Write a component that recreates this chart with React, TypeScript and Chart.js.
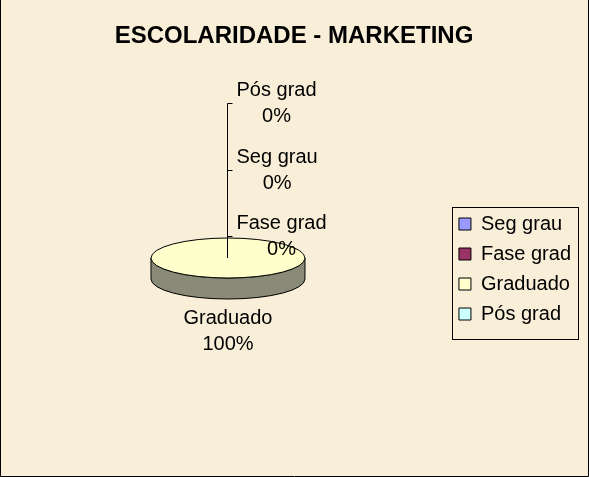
import React, { useEffect, useRef } from 'react';
import { Chart, registerables } from 'chart.js';

Chart.register(...registerables);

// ---- data ----
const chartTitle = 'ESCOLARIDADE - MARKETING';
const categories = ['Seg grau', 'Fase grad', 'Graduado', 'Pós grad'];
const shares = [0, 0, 100, 0];
const topColors = ['#9999FF', '#993366', '#FFFFCC', '#CCFFFF'];
const sideColors = ['#5F5F9E', '#5E1F3F', '#8A8A78', '#7E9E9E'];
// zero-value labels stacked from the pie upward
const zeroLabelOrder = ['Fase grad', 'Seg grau', 'Pós grad'];

const FONT = '"Liberation Sans", Arial, sans-serif';
const BG = '#F9EED8';
const TILT = 20 / 77;
const DEPTH = 21;
const STACK_STEP = 66.5;

function frontSegments(s: number, e: number) {
  const segs: [number, number][] = [];
  for (let k = -2; k <= 2; k++) {
    const a0 = Math.max(s, 2 * Math.PI * k);
    const a1 = Math.min(e, 2 * Math.PI * k + Math.PI);
    if (a1 > a0) segs.push([a0, a1]);
  }
  return segs;
}

const pie3d = {
  id: 'pie3d',
  beforeDraw(chart: any) {
    const ctx = chart.ctx;
    ctx.save();
    ctx.fillStyle = BG;
    ctx.fillRect(0, 0, chart.width, chart.height);
    ctx.restore();
  },
  beforeDatasetsDraw(chart: any) {
    const ctx = chart.ctx;
    const arcs = chart.getDatasetMeta(0).data;
    if (!arcs.length) return false;
    const { x, y, outerRadius: r } = arcs[0].getProps(['x', 'y', 'outerRadius'], true);
    const ry = r * TILT;
    ctx.save();
    ctx.lineWidth = 1;
    ctx.strokeStyle = '#000';
    // sides
    arcs.forEach((arc: any, i: number) => {
      const { startAngle, endAngle } = arc.getProps(['startAngle', 'endAngle'], true);
      if (endAngle - startAngle <= 0) return;
      frontSegments(startAngle, endAngle).forEach(([a0, a1]) => {
        ctx.beginPath();
        ctx.ellipse(x, y + DEPTH, r, ry, 0, a0, a1);
        ctx.ellipse(x, y, r, ry, 0, a1, a0, true);
        ctx.closePath();
        ctx.fillStyle = sideColors[i];
        ctx.fill();
        ctx.stroke();
      });
    });
    // top face drawn by the library's arc elements, flattened
    ctx.save();
    ctx.translate(x, y);
    ctx.scale(1, TILT);
    ctx.translate(-x, -y);
    arcs.forEach((arc: any) => arc.draw(ctx));
    ctx.restore();
    // outlines
    arcs.forEach((arc: any) => {
      const { startAngle, endAngle } = arc.getProps(['startAngle', 'endAngle'], true);
      const span = endAngle - startAngle;
      if (span <= 0) return;
      ctx.beginPath();
      if (span >= 2 * Math.PI - 1e-6) {
        ctx.ellipse(x, y, r, ry, 0, 0, 2 * Math.PI);
      } else {
        ctx.moveTo(x, y);
        ctx.ellipse(x, y, r, ry, 0, startAngle, endAngle);
        ctx.closePath();
      }
      ctx.stroke();
    });
    ctx.restore();
    return false;
  },
  afterDraw(chart: any) {
    const ctx = chart.ctx;
    const arcs = chart.getDatasetMeta(0).data;
    const values = chart.data.datasets[0].data as number[];
    const labels = chart.data.labels as string[];
    const total = values.reduce((a, b) => a + b, 0);
    const { x, y, outerRadius: r } = arcs[0].getProps(['x', 'y', 'outerRadius'], true);
    const ry = r * TILT;
    ctx.save();
    ctx.font = `20px ${FONT}`;
    ctx.fillStyle = '#000';
    ctx.strokeStyle = '#000';
    ctx.lineWidth = 1;
    ctx.textAlign = 'center';
    ctx.textBaseline = 'middle';
    let topTick: number | null = null;
    let lineX = 0;
    arcs.forEach((arc: any, i: number) => {
      const pct = Math.round((values[i] / total) * 100);
      const lines = [labels[i], pct + '%'];
      const w = Math.max(...lines.map((t) => ctx.measureText(t).width));
      const { startAngle, endAngle } = arc.getProps(['startAngle', 'endAngle'], true);
      if (values[i] === 0) {
        const level = zeroLabelOrder.indexOf(labels[i]);
        const ex = x + r * Math.cos(startAngle);
        const ey = y + ry * Math.sin(startAngle);
        const ty = Math.round(ey - 2 - level * STACK_STEP) + 0.5;
        lineX = Math.round(ex) - 0.5;
        ctx.beginPath();
        ctx.moveTo(lineX, ty);
        ctx.lineTo(lineX + 5, ty);
        ctx.stroke();
        topTick = topTick === null ? ty : Math.min(topTick, ty);
        const cx = lineX + 9 + w / 2;
        ctx.fillText(lines[0], cx, ty - 13);
        ctx.fillText(lines[1], cx, ty + 13);
      } else {
        const mid = (startAngle + endAngle) / 2;
        const c = Math.cos(mid), s = Math.sin(mid);
        const px = x + r * c;
        const py = y + ry * s + (s > 0 ? DEPTH : 0);
        const cx = px + c * (w / 2 + 10);
        const cy = py + s * 32;
        ctx.fillText(lines[0], cx, cy - 13);
        ctx.fillText(lines[1], cx, cy + 13);
      }
    });
    if (topTick !== null) {
      ctx.beginPath();
      ctx.moveTo(lineX, Math.round(y));
      ctx.lineTo(lineX, topTick);
      ctx.stroke();
    }
    // legend frame
    const lg = chart.legend;
    if (lg && lg.legendHitBoxes && lg.legendHitBoxes.length) {
      const hb = lg.legendHitBoxes;
      const left = Math.round(hb[0].left) - 7;
      const top = Math.round(hb[0].top) - 7;
      const right = Math.round(hb[0].left + Math.max(...hb.map((h: any) => h.width))) + 7;
      const last = hb[hb.length - 1];
      const bottom = Math.round(last.top + last.height) + 15;
      ctx.strokeRect(left + 0.5, top + 0.5, right - left, bottom - top);
    }
    // chart frame (left, right, bottom)
    ctx.beginPath();
    ctx.moveTo(0.5, 0);
    ctx.lineTo(0.5, chart.height - 0.5);
    ctx.lineTo(chart.width - 0.5, chart.height - 0.5);
    ctx.lineTo(chart.width - 0.5, 0);
    ctx.stroke();
    ctx.restore();
  },
};

export default function App() {
  const ref = useRef<HTMLCanvasElement>(null);
  useEffect(() => {
    document.body.style.margin = '0';
    const canvas = ref.current!;
    const baseGen = (Chart as any).overrides.pie.plugins.legend.labels.generateLabels;
    const chart = new Chart(canvas, {
      type: 'pie',
      data: {
        labels: categories,
        datasets: [
          {
            data: shares,
            backgroundColor: topColors,
            borderWidth: 0,
            radius: 77,
          } as any,
        ],
      },
      plugins: [pie3d],
      options: {
        responsive: false,
        animation: false,
        events: [],
        devicePixelRatio: 1,
        layout: { padding: { left: 7, right: 8, top: 6, bottom: 20 } },
        plugins: {
          title: {
            display: true,
            text: chartTitle,
            color: '#000',
            font: { family: FONT, size: 24, weight: 'bold', lineHeight: 1.15 },
            padding: { top: 16.5, bottom: 8.9 },
          },
          legend: {
            position: 'right',
            align: 'center',
            fullSize: false,
            title: { display: true, text: ' ', font: { size: 12, lineHeight: 1 }, padding: 5 },
            labels: {
              color: '#000',
              font: { family: FONT, size: 20 },
              boxWidth: 12,
              boxHeight: 12,
              padding: 10,
              generateLabels: (c: any) =>
                baseGen(c).map((it: any) => ({ ...it, strokeStyle: '#000', lineWidth: 1 })),
            },
          },
          tooltip: { enabled: false },
        },
      } as any,
    });
    return () => chart.destroy();
  }, []);
  return (
    <div style={{ width: 589, height: 477 }}>
      <canvas ref={ref} width={589} height={477} style={{ display: 'block', width: 589, height: 477 }} />
    </div>
  );
}
